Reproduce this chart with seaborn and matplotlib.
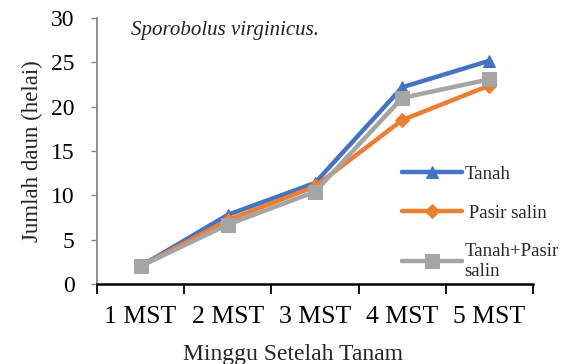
import matplotlib
matplotlib.use("Agg")
import matplotlib.pyplot as plt
import seaborn as sns
import pandas as pd
import numpy as np

weeks = ["1 MST", "2 MST", "3 MST", "4 MST", "5 MST"]
tanah = [2.0, 7.8, 11.4, 22.2, 25.2]
pasir_salin = [2.0, 7.2, 11.0, 18.5, 22.4]
tanah_pasir = [2.0, 6.7, 10.4, 21.0, 23.1]
series_names = ["Tanah", " Pasir salin", "Tanah+Pasir\nsalin"]
yticks = [0, 5, 10, 15, 20, 25, 30]

sns.set_theme(style="white")
plt.rcParams["font.family"] = ["Liberation Serif", "DejaVu Serif"]

rows = []
for name, vals in zip(series_names, [tanah, pasir_salin, tanah_pasir]):
    for i, v in enumerate(vals):
        rows.append({"pos": i, "value": v, "series": name})
df = pd.DataFrame(rows)

palette = {series_names[0]: "#4472C4", series_names[1]: "#ED7D31", series_names[2]: "#A5A5A5"}
markers = {series_names[0]: "^", series_names[1]: "D", series_names[2]: "s"}
msizes = {series_names[0]: 9, series_names[1]: 7, series_names[2]: 10}

fig = plt.figure(figsize=(5.64, 3.64), dpi=100)
ax = fig.add_axes([0.172, 0.22, 0.773, 0.73])

for name in series_names:
    sub = df[df["series"] == name]
    sns.lineplot(data=sub, x="pos", y="value", ax=ax, color=palette[name],
                 marker=markers[name], markersize=msizes[name],
                 markeredgecolor=palette[name], linewidth=3.2, label=name,
                 legend=False)

ax.set_xlim(-0.5, 4.5)
ax.set_ylim(0, 30)
ax.set_yticks(yticks)
ax.set_yticklabels([str(t) for t in yticks], fontsize=17)
ax.set_xticks(range(len(weeks)))
ax.set_xticklabels(weeks, fontsize=18.5)
ax.set_xticks(np.arange(-0.5, 5, 1.0), minor=True)
ax.tick_params(axis="x", which="major", length=0, pad=16, colors="black")
ax.tick_params(axis="x", which="minor", length=7, width=1.3, color="black", direction="out", bottom=True)
ax.tick_params(axis="y", which="major", length=4, width=1.0, color="#868686", direction="out", left=True, labelcolor="black", pad=12)

for s in ["top", "right"]:
    ax.spines[s].set_visible(False)
ax.spines["left"].set_color("#868686")
ax.spines["left"].set_linewidth(1.3)
ax.spines["bottom"].set_color("black")
ax.spines["bottom"].set_linewidth(1.8)

ax.set_xlabel("Minggu Setelah Tanam", fontsize=17)
ax.xaxis.set_label_coords(0.45, -0.225)
ax.xaxis.label.set_va("top")
ax.set_ylabel("Jumlah daun (helai)", fontsize=16.5, labelpad=6)

handles, labels = ax.get_legend_handles_labels()
leg = fig.legend(handles, labels, loc="upper left", bbox_to_anchor=(0.70, 0.565),
                 frameon=False, fontsize=13.5, handlelength=3.2, handletextpad=0.1,
                 labelspacing=1.15, borderaxespad=0)

fig.text(0.232, 0.915, "Sporobolus virginicus.", fontsize=15, style="italic",
         color="#222222", va="center", ha="left")

fig.savefig("out.png", dpi=100)
